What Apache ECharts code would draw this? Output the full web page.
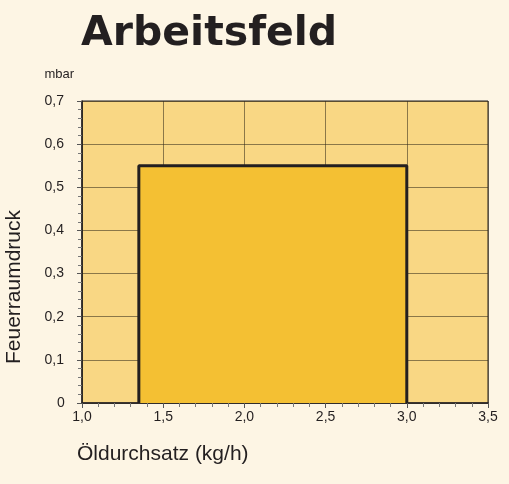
<!DOCTYPE html>
<meta charset="utf-8">
<style>
html, body { margin: 0; padding: 0; background: #fdf5e4; }
#main { width: 509px; height: 484px; }
</style>
<div id="main"></div>
<script src="https://cdn.jsdelivr.net/npm/echarts@6/dist/echarts.min.js"></script>
<script>
// working field outline (kg/h, mbar)
var fieldX = [1.35, 1.35, 3.0, 3.0];
var fieldY = [0, 0.55, 0.55, 0];
var xTicks = ['1,0', '1,5', '2,0', '2,5', '3,0', '3,5'];

var chart = echarts.init(document.getElementById('main'));

var fieldData = fieldX.map(function (x, i) { return [x, fieldY[i]]; });

var option = {
    backgroundColor: '#fdf5e4',
    title: {
        text: 'Arbeitsfeld',
        left: 76,
        top: 9,
        textStyle: {
            fontFamily: 'DejaVu Sans',
            fontWeight: 'bold',
            fontSize: 41,
            color: '#231f20'
        }
    },
    grid: {
        left: 82,
        right: 21,
        top: 101,
        bottom: 81,
        show: true,
        backgroundColor: '#f9d784',
        borderColor: '#231f20',
        borderWidth: 1
    },
    xAxis: {
        type: 'value',
        min: 1,
        max: 3.5,
        interval: 0.5,
        axisLine: { lineStyle: { color: '#231f20', width: 1.5 } },
        axisTick: { length: 5, lineStyle: { color: '#555' } },
        minorTick: { show: true, splitNumber: 5, length: 4, lineStyle: { color: '#777' } },
        splitLine: { show: true, lineStyle: { color: 'rgba(50,40,25,0.55)', width: 1 } },
        axisLabel: {
            fontFamily: 'Liberation Sans',
            fontSize: 14,
            color: '#231f20',
            margin: 7,
            formatter: function (v) { return xTicks[Math.round((v - 1) / 0.5)]; }
        }
    },
    yAxis: {
        type: 'value',
        min: 0,
        max: 0.7,
        interval: 0.1,
        name: 'mbar',
        nameLocation: 'end',
        nameGap: 20,
        nameTextStyle: {
            fontFamily: 'Liberation Sans',
            fontSize: 13,
            color: '#231f20',
            align: 'right',
            padding: [0, 8, 0, 0]
        },
        axisLine: { show: true, lineStyle: { color: '#231f20', width: 1.5 } },
        axisTick: { show: true, length: 5, lineStyle: { color: '#555' } },
        minorTick: { show: true, splitNumber: 5, length: 4, lineStyle: { color: '#777' } },
        splitLine: { show: true, lineStyle: { color: 'rgba(50,40,25,0.55)', width: 1 } },
        axisLabel: {
            fontFamily: 'Liberation Sans',
            fontSize: 14,
            color: '#231f20',
            margin: 18,
            formatter: function (v) {
                return v === 0 ? '{z|0}' : v.toFixed(1).replace('.', ',');
            },
            rich: {
                z: { fontFamily: 'Liberation Sans', fontSize: 14, color: '#231f20', padding: [0, 0, 0, 0], width: 7, align: 'left' }
            }
        }
    },
    graphic: [{
        type: 'text',
        left: 4,
        top: 210,
        rotation: Math.PI / 2,
        style: {
            text: 'Feuerraumdruck',
            fontFamily: 'Liberation Sans',
            fontSize: 21,
            fill: '#231f20'
        }
    }, {
        type: 'text',
        left: 77,
        top: 444,
        style: {
            text: 'Öldurchsatz (kg/h)',
            fontFamily: 'Liberation Sans',
            fontSize: 21,
            fill: '#231f20'
        }
    }],
    series: [{
        type: 'line',
        data: fieldData,
        symbol: 'none',
        z: 1,
        lineStyle: { color: '#231f20', width: 3 },
        areaStyle: { color: '#f4c033', opacity: 1 }
    }]
};

chart.setOption(option);
</script>
